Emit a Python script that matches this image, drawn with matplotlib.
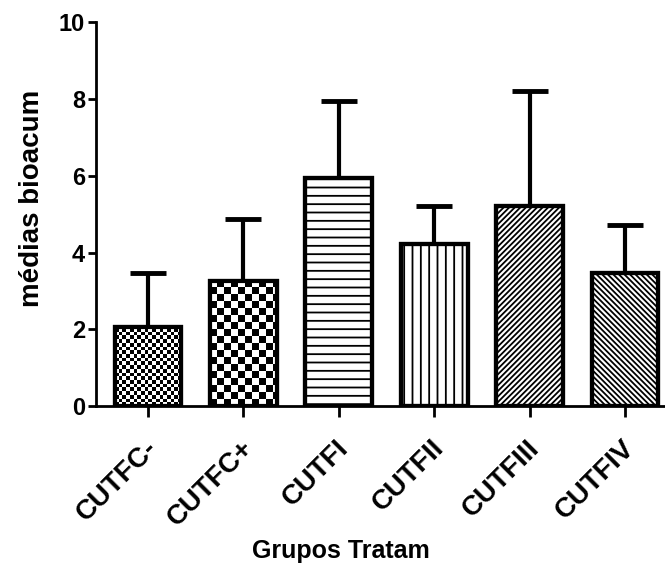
import numpy as np
import matplotlib
matplotlib.use("Agg")
import matplotlib.pyplot as plt
from matplotlib.transforms import ScaledTranslation

plt.rcParams['font.family'] = ['Liberation Sans', 'DejaVu Sans']
plt.rcParams['font.weight'] = 'bold'
plt.rcParams['hatch.linewidth'] = 1.3

grupos = ['CUTFC-', 'CUTFC+', 'CUTFI', 'CUTFII', 'CUTFIII', 'CUTFIV']
medias = [2.05, 3.27, 5.95, 4.22, 5.22, 3.47]
erro = [1.41, 1.60, 2.00, 0.98, 2.98, 1.25]
hatches = ['', '', '--', '||', '//////', '\\\\\\\\\\\\']
# checker cell size in pixels (0 = no checker fill)
checker_px = [3.7, 7.0, 0, 0, 0, 0]

fig = plt.figure(figsize=(6.65, 5.68), dpi=100)
ax = fig.add_axes([0.1444, 0.285, 0.8556, 0.676])

x = np.arange(len(grupos))
bars = ax.bar(x, medias, width=0.7, color='white', edgecolor='black',
              linewidth=3, hatch=hatches, zorder=2)

ax.set_xlim(-0.545, 5.42)
ax.set_ylim(0, 10)

# checkerboard fills drawn as images clipped to the bar outline
px_x = ax.transData.transform((1, 0))[0] - ax.transData.transform((0, 0))[0]
px_y = ax.transData.transform((0, 1))[1] - ax.transData.transform((0, 0))[1]
for bar, cell in zip(bars, checker_px):
    if not cell:
        continue
    x0, w, h = bar.get_x(), bar.get_width(), bar.get_height()
    nx = int(np.ceil(w * px_x / cell))
    ny = int(np.ceil(h * px_y / cell))
    grid = (np.add.outer(np.arange(ny), np.arange(nx)) % 2).astype(float)
    im = ax.imshow(grid, cmap='gray', interpolation='nearest', aspect='auto',
                   extent=[x0, x0 + nx * cell / px_x, 0, ny * cell / px_y],
                   origin='lower', zorder=2.5)
    im.set_clip_path(bar)

ax.bar(x, medias, width=0.7, fill=False, edgecolor='black', linewidth=3, zorder=3)

ax.errorbar(x, medias, yerr=[np.zeros(len(erro)), erro], fmt='none',
            ecolor='black', elinewidth=3, capsize=13, capthick=3.5, zorder=1.5)

ax.set_xlim(-0.545, 5.42)
ax.set_ylim(0, 10)

ax.spines['top'].set_visible(False)
ax.spines['right'].set_visible(False)
ax.spines['left'].set_linewidth(2)
ax.spines['bottom'].set_linewidth(2)

ax.set_yticks([0, 2, 4, 6, 8, 10])
ax.tick_params(axis='y', length=6, width=2, labelsize=17, pad=2)
ax.tick_params(axis='x', length=8, width=2, labelsize=20, pad=4)
ax.set_xticks(x)
ax.set_xticklabels(grupos, rotation=45, ha='right', rotation_mode='anchor')
shift = ScaledTranslation(-0.03, -0.12, fig.dpi_scale_trans)
for lbl in ax.get_xticklabels():
    lbl.set_transform(lbl.get_transform() + shift)

ax.set_ylabel('médias bioacum', fontsize=20, fontweight='bold')
ax.yaxis.set_label_coords(-0.09, 0.54)
ax.set_xlabel('Grupos Tratam', fontsize=18, fontweight='bold')
ax.xaxis.set_label_coords(0.43, -0.345)

fig.savefig('out.png', dpi=100)
